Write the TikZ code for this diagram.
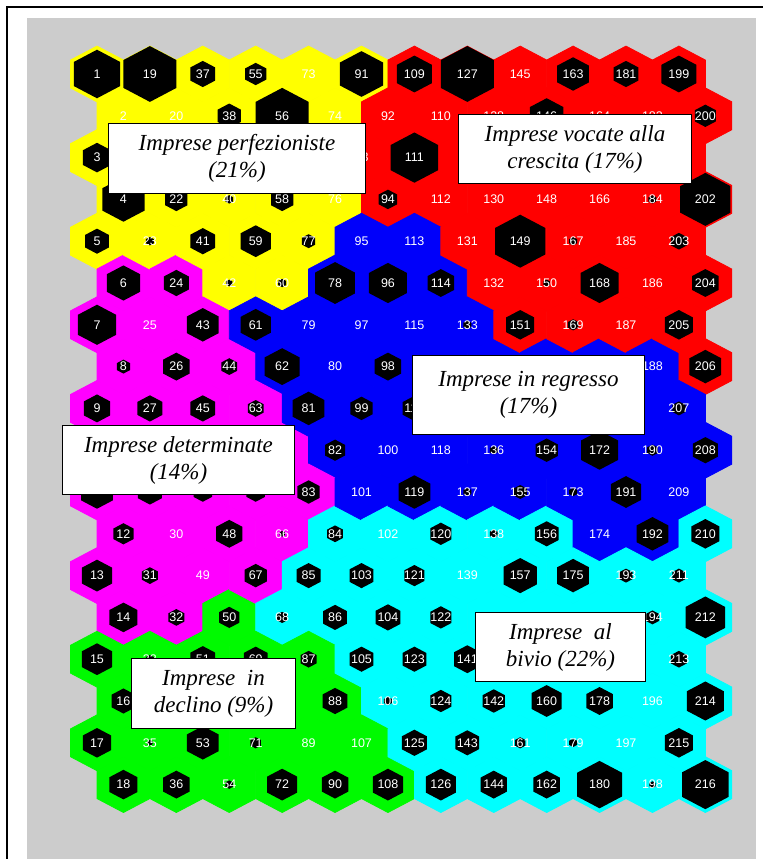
\documentclass[tikz,border=0pt]{standalone}
\usepackage{fontspec}
\setmainfont{Liberation Serif}
\newfontfamily\numfont{Liberation Sans}
\usepackage{xcolor}
\usepackage{tikz}
\definecolor{clY}{RGB}{255,255,0}
\definecolor{clR}{RGB}{255,0,0}
\definecolor{clB}{RGB}{0,0,250}
\definecolor{clM}{RGB}{255,0,255}
\definecolor{clC}{RGB}{0,255,255}
\definecolor{clG}{RGB}{0,250,0}
\definecolor{panelgray}{RGB}{204,204,204}
\tikzset{
  hexcell/.pic={\path[pic actions] (0,-27.9) -- (26.45,-13.95) -- (26.45,13.95)
    -- (0,27.9) -- (-26.45,13.95) -- (-26.45,-13.95) -- cycle;},
  cellnum/.style={text=white,inner sep=0pt,font=\numfont\fontsize{12.5}{13}\selectfont},
  groupbox/.style={draw=black,line width=1.4pt,fill=white,align=center,inner sep=0pt,
    font=\itshape\fontsize{23}{27}\selectfont}
}
% units whose number sits under a label box
\foreach \h in {10,11,21,28,29,34,39,46,47,52,57,64,65,70,75,116,129,134,135,140,147,
  152,153,158,159,165,170,171,176,177,183,189,195,201}
  {\expandafter\gdef\csname hidunit\h\endcsname{}}
% cluster / size of the hit hexagon, one column (18 units) per entry
\def\somcols{
  0/{Y/.87,Y/0,Y/.53,Y/.8,Y/.45,M/.63,M/.72,M/.25,M/.5,M/.5,M/.6,M/.38,M/.57,M/.53,G/.57,G/.45,G/.53,G/.53},
  1/{Y/1,Y/0,Y/0,Y/.42,Y/.15,M/.47,M/0,M/.5,M/.47,M/.4,M/.45,M/0,M/.3,M/.3,G/.15,G/0,G/.1,G/.5},
  2/{Y/.47,Y/.44,Y/0,Y/.15,Y/.47,Y/.12,M/.6,M/.3,M/.47,M/.4,M/.35,M/.5,M/0,G/.38,G/.47,G/.3,G/.6,G/.15},
  3/{Y/.4,Y/1,Y/0,Y/.42,Y/.57,Y/.15,B/.57,B/.66,M/.3,M/.4,M/.35,M/.1,M/.42,C/.2,G/.45,G/.4,G/.2,G/.57},
  4/{Y/0,Y/0,Y/0,Y/0,Y/.25,B/.75,B/0,B/0,B/.6,B/.38,M/.42,C/.3,C/.45,C/.45,G/.3,G/.47,G/0,G/.5},
  5/{Y/.82,R/0,R/0,R/.35,B/0,B/.72,B/0,B/.5,B/.42,B/0,B/0,C/0,C/.45,C/.47,C/.45,C/.15,G/0,G/.57},
  6/{R/.66,R/0,R/.9,R/0,B/0,B/.5,B/0,B/.3,B/.45,B/0,B/.6,C/.4,C/.38,C/.4,C/.45,C/.4,C/.47,C/.57},
  7/{R/1,R/0,R/0,R/0,R/0,R/0,B/.15,B/0,B/0,B/.15,B/.15,C/.15,C/0,C/0,C/.5,C/.42,C/.45,C/.5},
  8/{R/0,R/.63,R/0,R/0,R/.95,R/.12,R/.53,B/0,B/0,B/.42,B/.25,C/.45,C/.63,C/0,C/0,C/.57,C/.2,C/.5},
  9/{R/.6,R/0,R/0,R/0,R/.15,R/.72,R/.2,B/0,B/0,B/.7,B/.15,B/0,C/.6,C/0,C/0,C/.5,C/.15,C/.85},
  10/{R/.47,R/0,R/0,R/.15,R/0,R/0,R/0,B/0,B/0,B/.2,B/.57,B/.6,C/.25,C/.25,C/0,C/0,C/0,C/.12},
  11/{R/.66,R/.4,R/0,R/.95,R/.3,R/.5,R/.53,R/.6,B/.25,B/.47,B/0,C/.53,C/.25,C/.75,C/.3,C/.7,C/.53,C/.88}}
\begin{document}
\begin{tikzpicture}[x=1pt,y=-1pt]
  \useasboundingbox (0,0) rectangle (763,859);
  \fill[white] (0,0) rectangle (763,859);
  \fill[panelgray] (27,18) rectangle (756,859);
  \draw[line width=1.8pt] (7,859) -- (7,7) -- (763,7);
  % cluster areas
  \foreach \c/\cells in \somcols {
    \foreach \k/\sz [count=\r from 0] in \cells {
      \pgfmathsetmacro\cx{97+52.9*\c+26.45*mod(\r,2)}
      \pgfmathsetmacro\cy{74+41.8*\r}
      \pic[fill=cl\k,draw=cl\k,line width=0.8pt] at (\cx,\cy) {hexcell};
    }
  }
  % hits and unit numbers
  \foreach \c/\cells in \somcols {
    \foreach \k/\sz [count=\r from 0] in \cells {
      \pgfmathsetmacro\cx{97+52.9*\c+26.45*mod(\r,2)}
      \pgfmathsetmacro\cy{74+41.8*\r}
      \pgfmathtruncatemacro\unum{18*\c+\r+1}
      \ifdim\sz pt>0pt
        \pic[fill=black,scale=\sz] at (\cx,\cy) {hexcell};
      \fi
      \ifcsname hidunit\unum\endcsname\else
        \node[cellnum] (u\unum) at (\cx,\cy) {\unum};
      \fi
    }
  }
  \node[groupbox,minimum width=257pt,minimum height=70pt] (perf) at (237,158.5)
    {Imprese perfezioniste\\(21\%)};
  \node[groupbox,minimum width=233pt,minimum height=69pt] (cresc) at (575,149)
    {Imprese vocate alla\\crescita (17\%)};
  \node[groupbox,minimum width=232pt,minimum height=79pt] (regr) at (528.5,395)
    {Imprese in regresso\\(17\%)};
  \node[groupbox,minimum width=232pt,minimum height=69pt] (determ) at (178.5,460)
    {Imprese determinate\\(14\%)};
  \node[groupbox,minimum width=170pt,minimum height=69pt] (bivio) at (560.5,647)
    {Imprese\ \ al\\bivio (22\%)};
  \node[groupbox,minimum width=164pt,minimum height=70pt] (declino) at (213.5,693.5)
    {Imprese\ \ in\\declino (9\%)};
\end{tikzpicture}
\end{document}
